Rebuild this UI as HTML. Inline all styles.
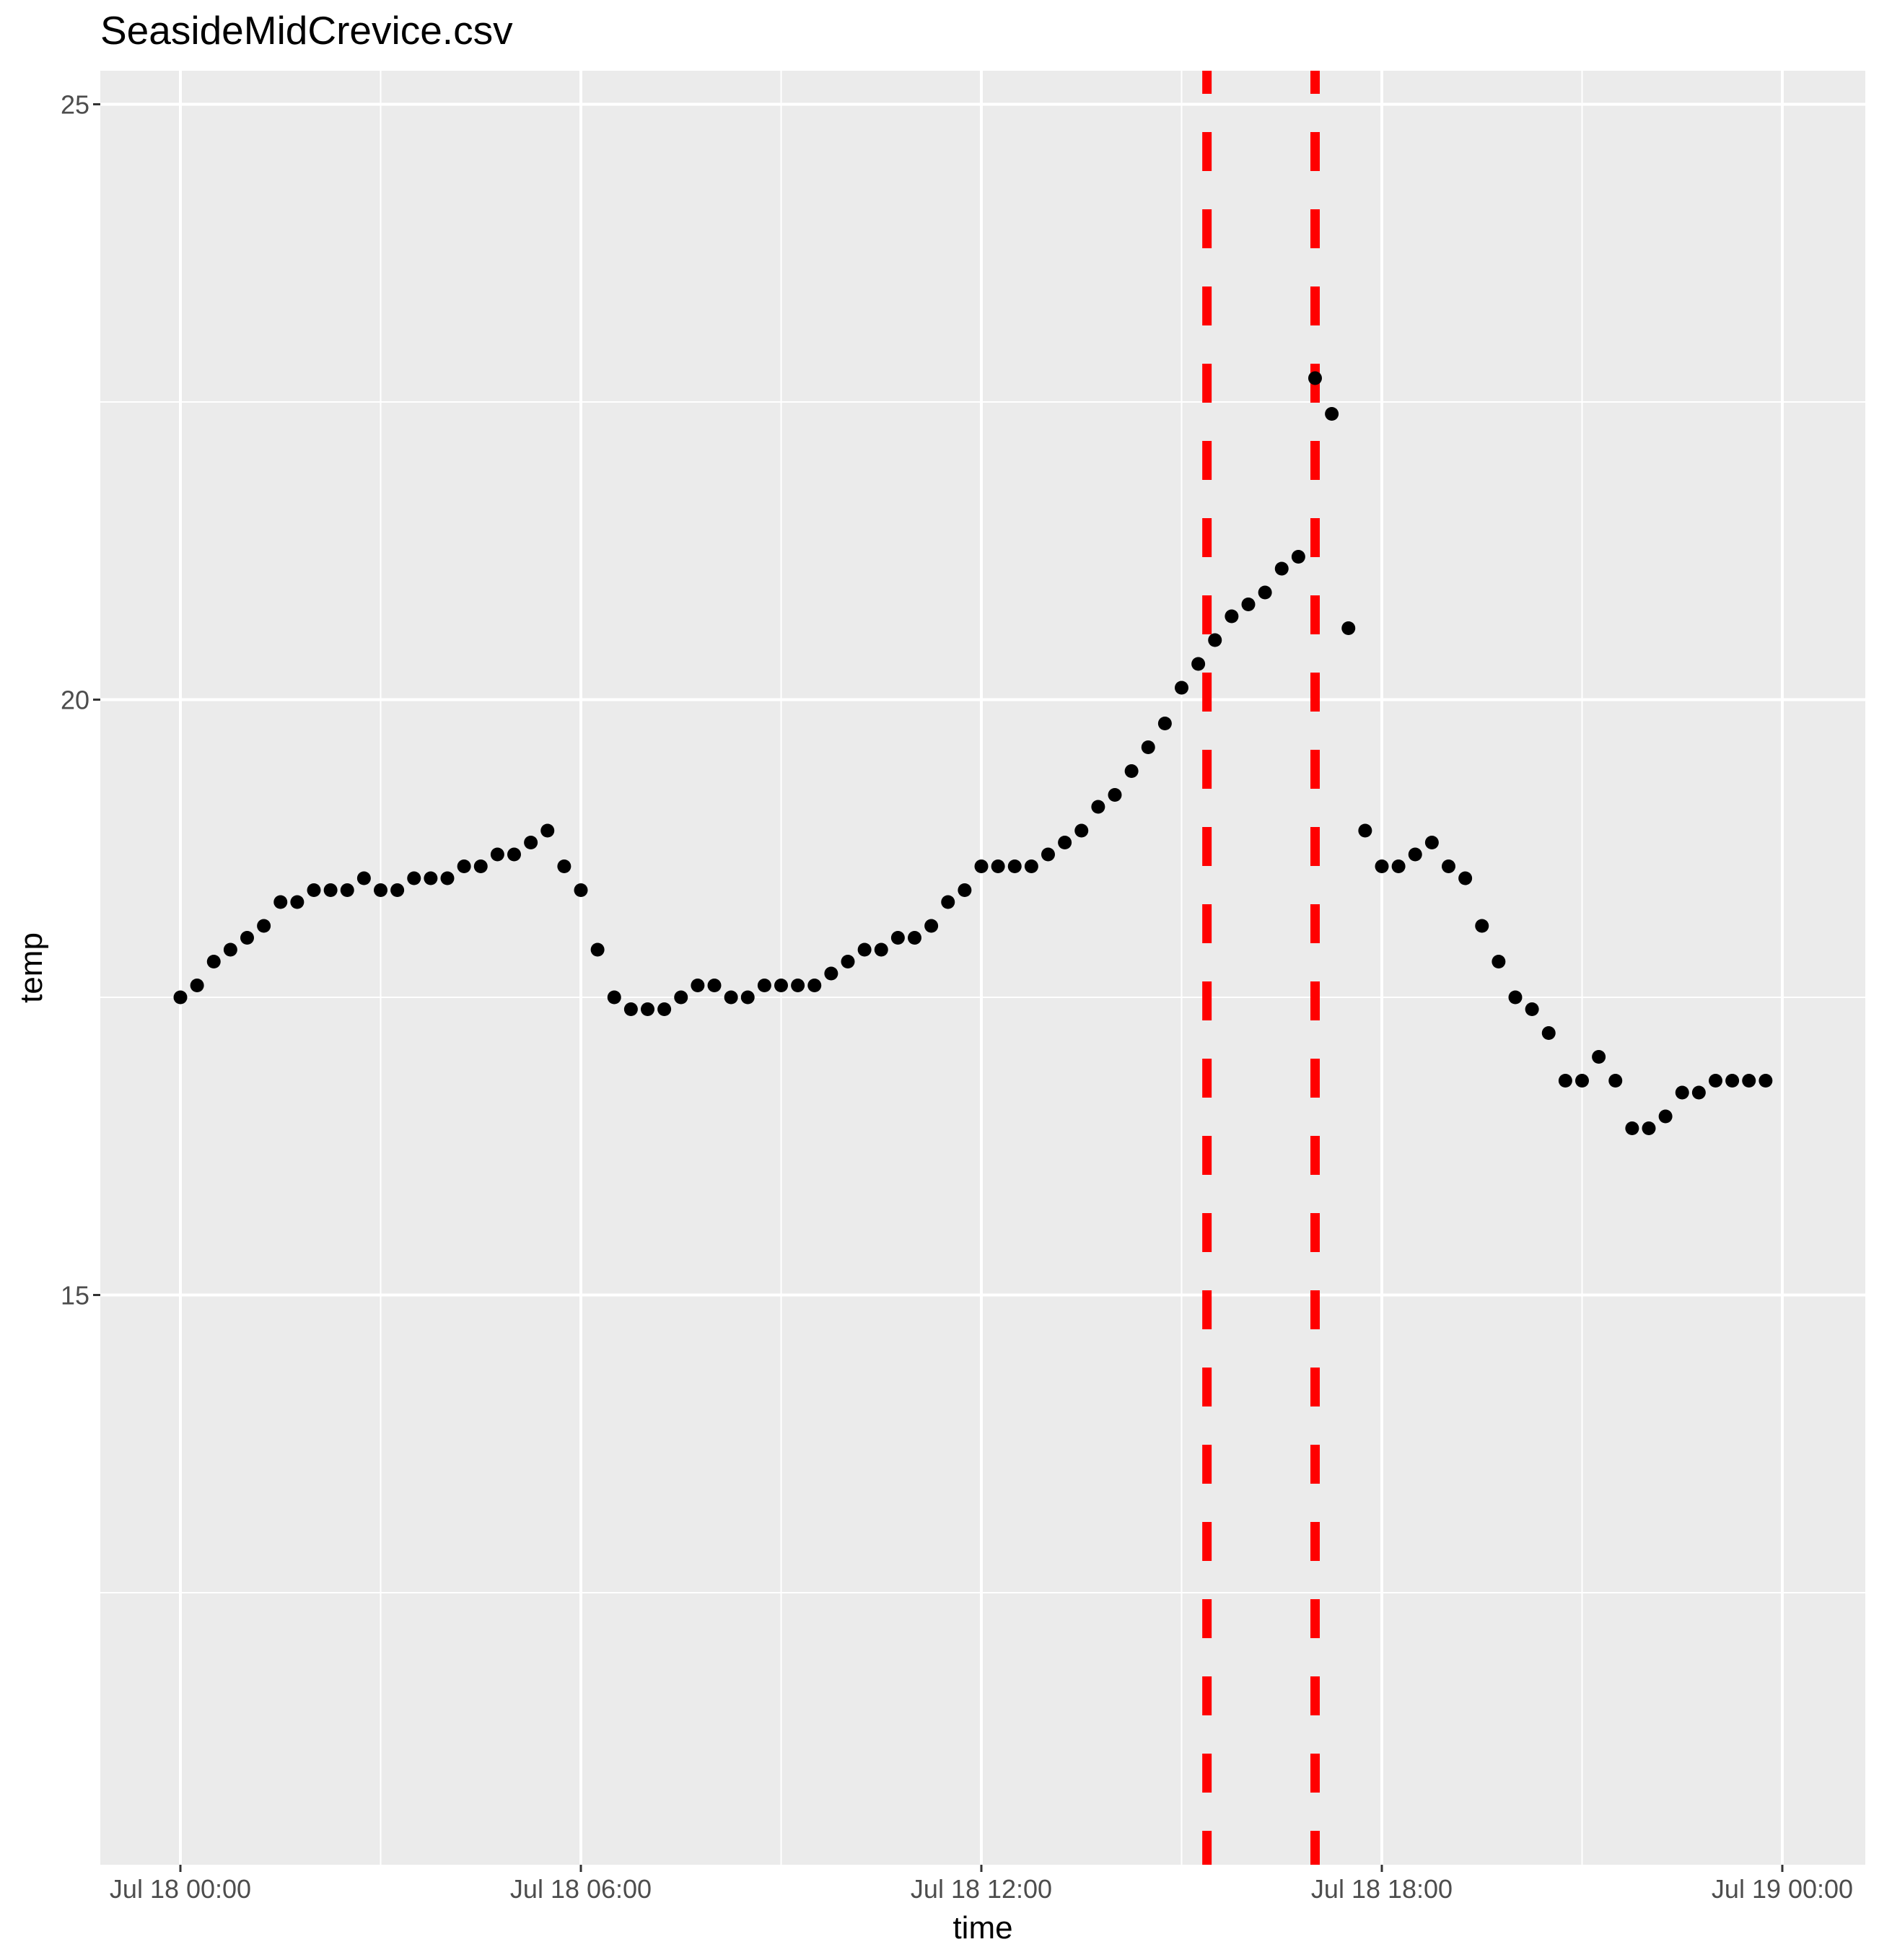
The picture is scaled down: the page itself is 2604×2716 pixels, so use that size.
<!DOCTYPE html>
<html>
<head>
<meta charset="utf-8">
<style>
  html, body { margin: 0; padding: 0; background: #ffffff; }
  svg { display: block; }
  text { font-family: "Liberation Sans", sans-serif; }
</style>
</head>
<body>
<svg id="chart" width="2604" height="2716" viewBox="0 0 2604 2716" xmlns="http://www.w3.org/2000/svg">
  <rect x="0" y="0" width="2604" height="2716" fill="#ffffff"/>
  <text x="139" y="61" font-size="55" fill="#000">SeasideMidCrevice.csv</text>
  <defs>
    <clipPath id="panelClip"><rect x="139" y="98" width="2446" height="2486"/></clipPath>
  </defs>
  <rect x="139" y="98" width="2446" height="2486" fill="#ebebeb"/>
  <g id="grid"></g>
  <g id="vlines" clip-path="url(#panelClip)"></g>
  <g id="points"></g>
  <g id="axes"></g>
  <text x="1362" y="2686" font-size="44" text-anchor="middle" fill="#000">time</text>
  <text x="0" y="0" font-size="44" text-anchor="middle" fill="#000" transform="translate(58,1341) rotate(-90)">temp</text>
</svg>
<script>
// ---- data ----
const temps = [
  17.5,17.6,17.8,17.9,18.0,18.1,18.3,18.3,18.4,18.4,18.4,18.5,
  18.4,18.4,18.5,18.5,18.5,18.6,18.6,18.7,18.7,18.8,18.9,18.6,
  18.4,17.9,17.5,17.4,17.4,17.4,17.5,17.6,17.6,17.5,17.5,17.6,
  17.6,17.6,17.6,17.7,17.8,17.9,17.9,18.0,18.0,18.1,18.3,18.4,
  18.6,18.6,18.6,18.6,18.7,18.8,18.9,19.1,19.2,19.4,19.6,19.8,
  20.1,20.3,20.5,20.7,20.8,20.9,21.1,21.2,22.7,22.4,20.6,18.9,
  18.6,18.6,18.7,18.8,18.6,18.5,18.1,17.8,17.5,17.4,17.2,16.8,
  16.8,17.0,16.8,16.4,16.4,16.5,16.7,16.7,16.8,16.8,16.8,16.8
];
const startHour = 0;
const stepHours = 0.25;
const eventHours = [15.38, 17.0];
const xTickHours = [0, 6, 12, 18, 24];
const xTickLabels = ["Jul 18 00:00", "Jul 18 06:00", "Jul 18 12:00", "Jul 18 18:00", "Jul 19 00:00"];
const xMinorHours = [3, 9, 15, 21];
const yTicks = [15, 20, 25];
const yMinor = [12.5, 17.5, 22.5];

// ---- scales ----
const PL = 139, PT = 98, PR = 2585, PB = 2584;
function xScale(h) { return 250 + h * 92.5; }
function yScale(v) { return 1382 - (v - 17.5) * 165; }
const NS = "http://www.w3.org/2000/svg";
function mk(tag, attrs, parent) {
  const el = document.createElementNS(NS, tag);
  for (const k in attrs) el.setAttribute(k, attrs[k]);
  parent.appendChild(el);
  return el;
}
const grid = document.getElementById('grid');
const axes = document.getElementById('axes');

yMinor.forEach(v => {
  const el = mk('line', {x1: PL, x2: PR, y1: yScale(v), y2: yScale(v), stroke: '#fff', 'stroke-width': 2}, grid);
  
  
});
xMinorHours.forEach(h => {
  const el = mk('line', {x1: xScale(h), x2: xScale(h), y1: PT, y2: PB, stroke: '#fff', 'stroke-width': 2}, grid);
  
  
});
yTicks.forEach(v => {
  const y = yScale(v);
  const g = mk('line', {x1: PL, x2: PR, y1: y, y2: y, stroke: '#fff', 'stroke-width': 4}, grid);
  
  
  const t = mk('line', {x1: PL - 10, x2: PL, y1: y, y2: y, stroke: '#333', 'stroke-width': 3}, axes);
  
  
  const lb = mk('text', {x: PL - 15, y: y + 13, 'font-size': 36, fill: '#4d4d4d', 'text-anchor': 'end'}, axes);
  lb.textContent = String(v);
  
  
});
xTickHours.forEach((h, i) => {
  const x = xScale(h);
  const g = mk('line', {x1: x, x2: x, y1: PT, y2: PB, stroke: '#fff', 'stroke-width': 4}, grid);
  
  
  const t = mk('line', {x1: x, x2: x, y1: PB, y2: PB + 10, stroke: '#333', 'stroke-width': 3}, axes);
  
  
  const lb = mk('text', {x: x, y: PB + 46, 'font-size': 36, fill: '#4d4d4d', 'text-anchor': 'middle'}, axes);
  lb.textContent = xTickLabels[i];
  
  
});

const vlines = document.getElementById('vlines');
eventHours.forEach(h => {
  const x = xScale(h);
  const el = mk('line', {x1: x, x2: x, y1: 76, y2: PB, stroke: '#ff0000', 'stroke-width': 13, 'stroke-dasharray': '54 53'}, vlines);
  
  
});

const pts = document.getElementById('points');
temps.forEach((v, i) => {
  const h = startHour + i * stepHours;
  const c = mk('circle', {cx: xScale(h), cy: yScale(v), r: 9.5, fill: '#000'}, pts);
  
  
});
</script>
</body>
</html>
